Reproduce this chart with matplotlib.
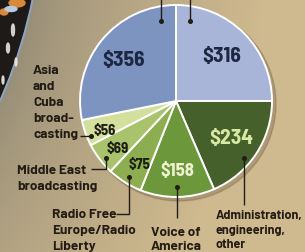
import matplotlib
matplotlib.use("Agg")
import matplotlib.pyplot as plt
import numpy as np
from matplotlib.patches import Circle, Ellipse

# ---- data ----
values = [316, 234, 158, 75, 69, 56, 356]
value_labels = ["$316", "$234", "$158", "$75", "$69", "$56", "$356"]
label_lines = {
    1: ["Administration,", "engineering,", "other"],
    2: ["Voice of", "America"],
    3: ["Radio Free", "Europe/Radio", "Liberty"],
    4: ["Middle East", "broadcasting"],
    5: ["Asia", "and", "Cuba", "broad-", "casting"],
}
colors = ["#a9b5d8", "#45602a", "#6d973b", "#8cad50", "#a8c36b", "#d3df9d", "#7d94c1"]

W, H = 305, 252
VFONT = ["Barlow Semi Condensed", "Liberation Sans", "DejaVu Sans"]
LFONT = ["Barlow", "Barlow Semi Condensed", "Liberation Sans", "DejaVu Sans"]
WEIGHT = 700
fig = plt.figure(figsize=(W / 100, H / 100), dpi=100)
ax = fig.add_axes([0, 0, 1, 1])

def Y(py):
    return H - py

# background: tan, greyer near the globe at the left
gx, gy = np.meshgrid(np.arange(W) + 0.5, np.arange(H) + 0.5)
d = np.sqrt((gx + 452) ** 2 + (gy + 100) ** 2) - 494
t = np.clip(d / 230.0, 0, 1) ** 0.7
c_near = np.array([0x96, 0x8d, 0x77]) / 255
c_far = np.array([0xcf, 0xb9, 0x8e]) / 255
img = c_near[None, None, :] * (1 - t[..., None]) + c_far[None, None, :] * t[..., None]
ax.imshow(img, extent=[0, W, 0, H], origin="upper", aspect="auto", zorder=0)

# dark globe at upper left
ax.add_patch(Circle((-452, Y(-100)), 495, color="#8ea4c0", zorder=1))
ax.add_patch(Circle((-452, Y(-100)), 493, color="#1d1a17", zorder=1.1))
ax.add_patch(Ellipse((17, Y(3)), 16, 8, color="#d88a3a", zorder=2))
ax.add_patch(Ellipse((4, Y(12)), 8, 6, color="#d88a3a", zorder=2))
ax.add_patch(Ellipse((11, Y(9)), 12, 5, color="#b9cbe0", zorder=2))
for (x, y, w, h) in [(13, 30, 3, 12), (8, 48, 3, 10), (16, 62, 2, 8), (3, 80, 2, 8)]:
    ax.add_patch(Ellipse((x, Y(y)), w, h, color="#e8e6e0", zorder=2, alpha=0.85))

cx, cy, R = 176, 101, 96
# shadow
ax.add_patch(Circle((cx + 3, Y(cy + 3)), R + 1, color="#6f6048", alpha=0.35, zorder=2))
wedges, _ = ax.pie(values, colors=colors, startangle=90, counterclock=False, radius=R,
                   center=(cx, Y(cy)), frame=True,
                   wedgeprops=dict(edgecolor="white", linewidth=1.4))
for w in wedges:
    w.set_zorder(3)
ax.set_xlim(0, W)
ax.set_ylim(0, H)
ax.set_aspect("equal")
ax.axis("off")

dark = "#231c14"
# value labels (center x, center y, colour, size)
vstyle = [
    (222, 54, "#1e2742", 15.5),
    (231, 137, "#d7e8a2", 15.5),
    (177, 170, "#eef2cf", 13.5),
    (139, 164, "#1d1d14", 10.8),
    (118, 148, "#1d1d14", 10.8),
    (105, 130, "#1d1d14", 10.8),
    (124, 59, "#1e2742", 15.5),
]
for lab, (x, y, c, fs) in zip(value_labels, vstyle):
    ax.text(x, Y(y), lab, ha="center", va="center_baseline", color=c, fontsize=fs,
            fontweight=WEIGHT, family=VFONT, zorder=5)

lw = 1.0
def leader(pts, dot):
    xs = [p[0] for p in pts]
    ys = [Y(p[1]) for p in pts]
    ax.plot(xs, ys, color=dark, lw=lw, zorder=6, solid_capstyle="butt")
    ax.plot([dot[0]], [Y(dot[1])], "o", color=dark, ms=2.6, zorder=7)

# top leaders
leader([(161, -2), (161, 21)], (161, 21))
leader([(190, -2), (190, 21)], (190, 21))
# bottom/left leaders
leader([(80, 136), (91, 136)], (91, 136))
leader([(106, 158), (106, 169), (91, 169)], (106, 158))
leader([(129, 177), (129, 214), (116, 214)], (129, 177))
leader([(177, 187), (177, 218)], (177, 187))
leader([(244, 158), (244, 205)], (244, 158))

# category labels: x, line centre y's, alignment, size
lab_pos = {
    1: (216, [214, 229, 244], "left", 9.0),
    2: (176, [231, 245], "center", 9.8),
    3: (52, [214, 229, 245], "left", 9.8),
    4: (17, [170, 186], "left", 9.8),
    5: (33, [69, 85, 101, 117, 134], "left", 9.8),
}
for i, (x, ys, ha, fs) in lab_pos.items():
    for line, y in zip(label_lines[i], ys):
        ax.text(x, Y(y), line, ha=ha, va="center_baseline", color=dark, fontsize=fs,
                fontweight=WEIGHT, family=LFONT, zorder=5)

fig.savefig("out.png", dpi=100)
